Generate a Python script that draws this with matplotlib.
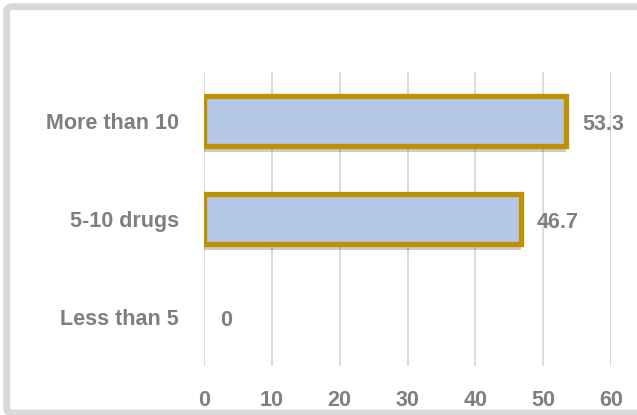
import matplotlib.pyplot as plt
import matplotlib.patheffects as pe
from matplotlib.patches import FancyBboxPatch

categories = ["Less than 5", "5-10 drugs", "More than 10"]
values = [0, 46.7, 53.3]
labels = ["0", "46.7", "53.3"]

W, H = 637, 415
fig = plt.figure(figsize=(W / 100, H / 100), dpi=100)
plt.rcParams['font.family'] = ['Liberation Sans', 'DejaVu Sans']

# outer frame
frame = FancyBboxPatch((6.7 / W, 2 / H), (W + 40) / W, (H - 8.7) / H,
                       boxstyle="round,pad=0,rounding_size=0.01",
                       transform=fig.transFigure, fill=False,
                       edgecolor="#d9d9d9", linewidth=5, clip_on=False)
fig.patches.append(frame)

ax = fig.add_axes([204 / W, 1 - 366 / H, (611 - 204) / W, (366 - 72) / H])
pos = range(len(categories))
bars = ax.barh(pos, values, height=0.52, color="#b4c7e7",
               edgecolor="#bf9000", linewidth=3.8, zorder=3)
for b, v in zip(bars, values):
    if v > 0:
        b.set_path_effects([pe.SimplePatchShadow(offset=(0, -4), shadow_rgbFace="#000000", alpha=0.2),
                            pe.Normal()])
    else:
        b.set_visible(False)

for i, (v, t) in enumerate(zip(values, labels)):
    ax.text(v + 2.4, i - 0.04, t, va="center", ha="left", fontsize=15.5,
            fontweight="bold", color="#7f7f7f")

ax.set_xlim(0, 60)
ax.set_ylim(-0.5, 2.5)
ax.set_xticks(range(0, 61, 10))
ax.set_yticks(list(pos))
ax.set_yticklabels(categories)
ax.tick_params(axis="both", length=0, labelsize=15.5, labelcolor="#7f7f7f")
ax.tick_params(axis="x", pad=17)
ax.tick_params(axis="y", pad=18)
for lab in ax.get_xticklabels() + ax.get_yticklabels():
    lab.set_fontweight("bold")
ax.grid(axis="x", color="#d9d9d9", linewidth=1.3, zorder=0)
for s in ax.spines.values():
    s.set_visible(False)

fig.savefig("out.png", dpi=100)
